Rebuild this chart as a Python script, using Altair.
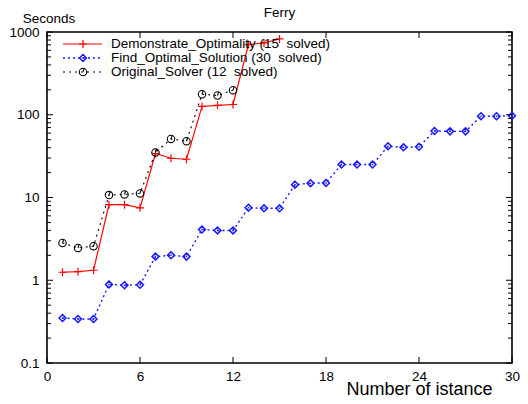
import altair as alt
import pandas as pd

# ---- data ----
x_red = list(range(1, 16))
y_red = [1.25, 1.27, 1.32, 8.2, 8.2, 7.5, 34, 29.8, 29, 126, 130, 133, 705, 738, 824]
x_blue = list(range(1, 31))
y_blue = [0.35, 0.34, 0.34, 0.89, 0.87, 0.88, 1.93, 2.0, 1.93, 4.1, 4.0, 4.0,
          7.5, 7.4, 7.4, 14.3, 14.9, 15.0, 25, 25, 25, 41.6, 40.4, 41,
          63.7, 63, 63, 96, 96, 97]
x_black = list(range(1, 13))
y_black = [2.82, 2.46, 2.58, 10.7, 10.9, 11.2, 35, 51, 47.9, 177, 171, 198]

labels = ["Demonstrate_Optimality (15\u00a0 solved)",
          "Find_Optimal_Solution (30\u00a0 solved)",
          "Original_Solver (12\u00a0 solved)"]
chart_title = "Ferry"

x_ticks = [0, 6, 12, 18, 24, 30]
y_major = [0.1, 1, 10, 100, 1000]
y_minor = [m * d for d in [0.1, 1, 10, 100] for m in range(2, 10)]

W, H = 465, 331
FONT = "Liberation Sans"

xscale = alt.Scale(domain=[0, 30], nice=False, zero=False)
yscale = alt.Scale(type="log", domain=[0.1, 1000], nice=False)

xaxis = alt.Axis(values=x_ticks, title="Number of istance", titleFontSize=18,
                 titleFontWeight="normal", titleX=372, titleY=31,
                 titleBaseline="alphabetic", titleAlign="center",
                 labelPadding=6, labelFlush=False)
yaxis = alt.Axis(values=y_major, format="~g", title="Seconds", titleAngle=0,
                 titleX=1.5, titleY=-10, titleAlign="center",
                 titleBaseline="alphabetic", titleFontSize=13.5,
                 titleFontWeight="normal", labelPadding=8, labelFlush=False)

RED, BLUE, BLACK = "#ff0000", "#1a1aff", "#000000"
plus_path = "M-1,0H1M0,-1V1"
diamond_path = "M0,-1L1,0L0,1L-1,0ZM-0.2,0H0.2"
circle_path = "M1,0A1,1 0 1,1 -1,0A1,1 0 1,1 1,0M0,0L0.3,-0.9"

# (xs, ys, colour, dash, shape, size, line width, marker width)
series = [
    (x_red, y_red, RED, None, plus_path, 64, 1.2, 1.2),
    (x_blue, y_blue, BLUE, [2, 3], diamond_path, 48, 1.4, 1.5),
    (x_black, y_black, BLACK, [2, 4], circle_path, 55, 1.1, 1.1),
]

X = alt.X("x:Q", scale=xscale, axis=xaxis)
Y = alt.Y("y:Q", scale=yscale, axis=yaxis)

layers = []
for xs, ys, col, dash, shape, size, lw, mw in series:
    df = pd.DataFrame({"x": xs, "y": ys})
    lkw = dict(color=col, strokeWidth=lw)
    if dash:
        lkw["strokeDash"] = dash
    layers.append(alt.Chart(df).mark_line(**lkw).encode(x=X, y=Y))
    layers.append(
        alt.Chart(df).mark_point(shape=shape, color=col, size=size,
                                 strokeWidth=mw, filled=False, opacity=1).encode(x=X, y=Y)
    )

# inward ticks (gnuplot style)
dxt = pd.DataFrame({"x": x_ticks})
for y0, y1 in [(H, H - 6), (0, 6)]:
    layers.append(alt.Chart(dxt).mark_rule(color="black", strokeWidth=1).encode(
        x=X, y=alt.value(y0), y2=alt.value(y1)))
for vals, ln in [(y_major, 6), (y_minor, 4)]:
    dyt = pd.DataFrame({"y": vals})
    for x0, x1 in [(0, ln), (W - ln, W)]:
        layers.append(alt.Chart(dyt).mark_rule(color="black", strokeWidth=1).encode(
            y=Y, x=alt.value(x0), x2=alt.value(x1)))

# legend (top-left inside plot)
leg_y = [12, 26, 40]
for (xs, ys, col, dash, shape, size, lw, mw), lab, ly in zip(series, labels, leg_y):
    dl = pd.DataFrame({"label": [lab]})
    rkw = dict(color=col, strokeWidth=lw)
    if dash:
        rkw["strokeDash"] = dash
    layers.append(alt.Chart(dl).mark_rule(**rkw).encode(
        x=alt.value(16), x2=alt.value(55), y=alt.value(ly)))
    layers.append(alt.Chart(dl).mark_point(shape=shape, color=col, size=size,
                                           strokeWidth=mw, filled=False, opacity=1).encode(
        x=alt.value(36), y=alt.value(ly)))
    layers.append(alt.Chart(dl).mark_text(align="left", baseline="middle",
                                          font=FONT, fontSize=13.5, color="black").encode(
        x=alt.value(64), y=alt.value(ly), text="label:N"))

# chart title
layers.append(alt.Chart(pd.DataFrame({"t": [chart_title]})).mark_text(
    align="center", baseline="alphabetic", font=FONT, fontSize=13.5, color="black"
).encode(x=alt.value(W / 2), y=alt.value(-15), text="t:N"))

chart = alt.layer(*layers).properties(
    width=W, height=H,
    background="white",
    autosize=alt.AutoSizeParams(type="none"),
    padding={"left": 39, "top": 24, "right": 8, "bottom": 40},
).configure_view(stroke="black", strokeWidth=1.6).configure_axis(
    domain=False, ticks=False, grid=False, labelFont=FONT, titleFont=FONT,
    labelFontSize=13.5, labelColor="black", titleColor="black",
)

chart.save("out.html", embed_options={"renderer": "svg", "actions": False})
